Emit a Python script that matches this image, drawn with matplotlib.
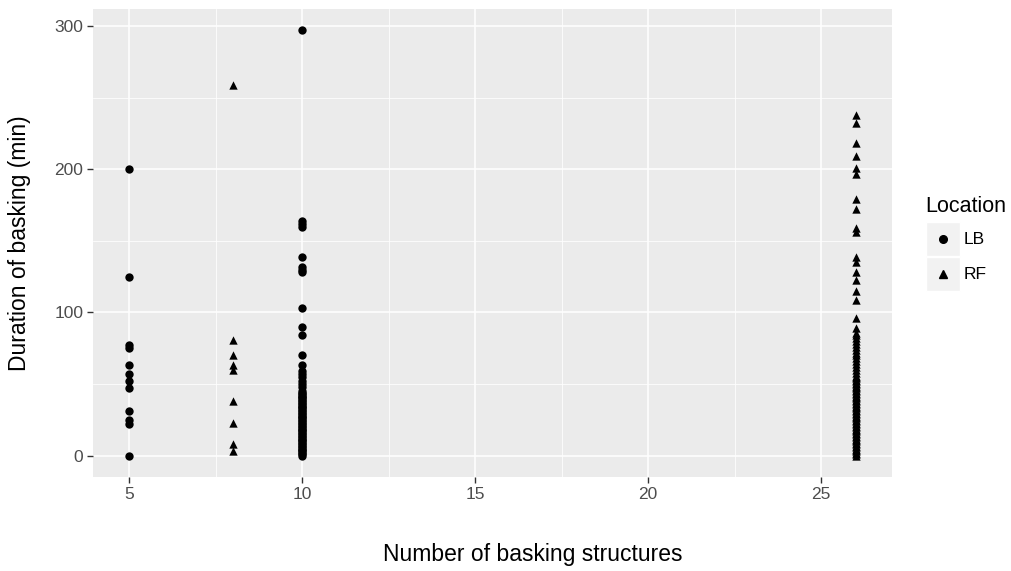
import matplotlib.pyplot as plt
from matplotlib.patches import Rectangle

# values (x = number of basking structures, y = minutes)
lb_x5 = [200, 125, 77, 75, 63, 57, 52, 47, 31, 25, 22, 0]
rf_x8 = [259, 81, 70, 63, 60, 38, 23, 8, 3]
lb_x10 = [297, 164, 162, 160, 139, 132, 130, 128, 103, 90, 84, 70, 63,
          59, 57, 55, 52, 50, 48,
          45, 44, 43, 42, 41, 40, 39, 38, 37, 36, 35, 34, 33, 32, 31, 30,
          29, 28, 27, 26, 25, 24, 23, 22, 21, 20, 19, 18, 17, 16, 15, 14,
          13, 12, 11, 10, 9, 8, 7, 6, 5, 4, 3, 2, 1, 0]
rf_x26 = [238, 232, 218, 209, 201, 197, 179, 172, 159, 156, 139, 135, 128,
          123, 115, 109, 96, 89, 86, 84, 82, 80, 78, 76, 74, 72, 70, 68, 66,
          64, 62, 60, 58, 56, 55, 54, 53, 52, 51, 50, 49, 48, 47, 46, 45, 44,
          43, 42, 41, 40, 39, 38, 37, 36, 35, 34, 33, 32, 31, 30, 29, 28, 27,
          26, 25, 24, 23, 22, 21, 20, 19, 18, 17, 16, 15, 14, 13, 12, 11, 10,
          9, 8, 7, 6, 5, 4, 3, 2, 1, 0]

lb_x = [5] * len(lb_x5) + [10] * len(lb_x10)
lb_y = lb_x5 + lb_x10
rf_x = [8] * len(rf_x8) + [26] * len(rf_x26)
rf_y = rf_x8 + rf_x26

x_ticks = [5, 10, 15, 20, 25]
y_ticks = [0, 100, 200, 300]

plt.rcParams['font.family'] = ['Liberation Sans', 'DejaVu Sans']

W, H = 1011, 571
fig = plt.figure(figsize=(W / 100, H / 100), dpi=100)
ax = fig.add_axes([93 / W, 1 - 477 / H, (892 - 93) / W, (477 - 9) / H])

ax.set_facecolor('#EBEBEB')
for s in ax.spines.values():
    s.set_visible(False)

ax.scatter(lb_x, lb_y, marker='o', s=36, color='black', linewidths=0, zorder=3)
ax.scatter(rf_x, rf_y, marker='^', s=36, color='black', linewidths=0, zorder=3)

# ggplot style 5% expansion
ax.set_xlim(5 - 0.05 * 21, 26 + 0.05 * 21)
ax.set_ylim(0 - 0.05 * 297, 297 + 0.05 * 297)

ax.set_xticks(x_ticks)
ax.set_yticks(y_ticks)
ax.set_xticks([7.5, 12.5, 17.5, 22.5], minor=True)
ax.set_yticks([50, 150, 250], minor=True)
ax.grid(True, which='major', color='white', linewidth=1.1)
ax.grid(True, which='minor', color='white', linewidth=0.55)
ax.set_axisbelow(True)
ax.tick_params(which='major', length=4, width=1, color='#333333',
               labelcolor='#4D4D4D', labelsize=12.5, pad=3)
ax.tick_params(which='minor', length=0)

ax.set_xlabel('Number of basking structures', fontsize=16.5)
ax.set_ylabel('Duration of basking (min)', fontsize=16.5)
# title positions as in the reference (x title sits right of panel centre)
ax.xaxis.set_label_coords((533 - 93) / 799, -(555 - 477) / 468)
ax.yaxis.set_label_coords(-(93 - 20) / 799, 0.5)
ax.xaxis.label.set_va('center')
ax.yaxis.label.set_va('center')

# legend drawn by hand to get the grey key boxes
def fx(px):
    return px / W

def fy(py):
    return 1 - py / H

fig.text(fx(925), fy(207), 'Location', fontsize=15.5, va='center', ha='left')
keys = [('LB', 'o', 239), ('RF', '^', 274)]
for lab, mk, cy in keys:
    fig.patches.append(Rectangle((fx(926), fy(cy + 17)), fx(34), 34 / H,
                                 transform=fig.transFigure, facecolor='#F2F2F2',
                                 edgecolor='white', linewidth=1))
    fig.add_artist(plt.Line2D([fx(943)], [fy(cy)], marker=mk, markersize=5.5,
                              color='black', linestyle='none',
                              transform=fig.transFigure))
    fig.text(fx(964), fy(cy), lab, fontsize=12.5, va='center', ha='left')

fig.savefig('out.png', dpi=100)
